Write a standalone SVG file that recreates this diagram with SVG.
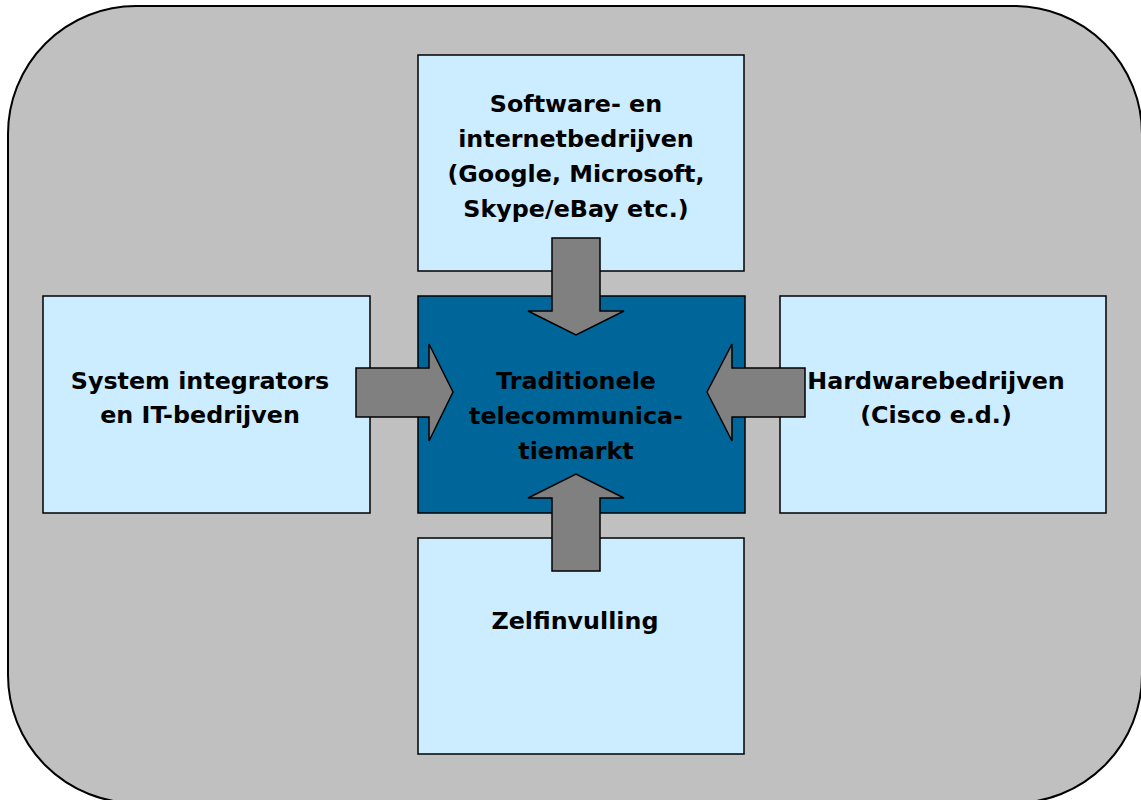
<svg xmlns="http://www.w3.org/2000/svg" width="1141" height="800" viewBox="0 0 1141 800">
<style>
.box{fill:#CCECFF;stroke:#000;stroke-width:1.5}
.core{fill:#006699;stroke:#000;stroke-width:1.5}
.arr{fill:#808080;stroke:#000;stroke-width:1.5;stroke-linejoin:miter}
text{font-family:"DejaVu Sans",Verdana,sans-serif;font-weight:bold;font-size:23.8px;fill:#000;text-anchor:middle}
</style>
<rect x="8" y="6" width="1134" height="797" rx="128" ry="128" fill="#C0C0C0" stroke="#000" stroke-width="2"/>
<g id="node-top"><rect class="box" x="418" y="55" width="326" height="216"/></g>
<g id="node-left"><rect class="box" x="43" y="296" width="327" height="217"/></g>
<g id="node-center"><rect class="core" x="418" y="296" width="327" height="217"/></g>
<g id="node-right"><rect class="box" x="780" y="296" width="326" height="217"/></g>
<g id="node-bottom"><rect class="box" x="418" y="538" width="326" height="216"/></g>
<g id="connectors">
<polygon class="arr" points="552,238 600,238 600,311 624,311 576,335 528,311 552,311"/>
<polygon class="arr" points="552,571 600,571 600,498 624,498 576,474 528,498 552,498"/>
<polygon class="arr" points="356,368 429,368 429,344 453,392 429,441 429,417 356,417"/>
<polygon class="arr" points="805,368 732,368 732,344 707,392 732,441 732,417 805,417"/>
</g>
<g id="labels">
<text x="576" y="112">Software- en</text>
<text x="576" y="147">internetbedrijven</text>
<text x="576" y="182">(Google, Microsoft,</text>
<text x="576" y="217">Skype/eBay etc.)</text>
<text x="200" y="389">System integrators</text>
<text x="200" y="423">en IT-bedrijven</text>
<text x="576" y="389">Traditionele</text>
<text x="576" y="424">telecommunica-</text>
<text x="576" y="459">tiemarkt</text>
<text x="936" y="389">Hardwarebedrijven</text>
<text x="936" y="423">(Cisco e.d.)</text>
<text x="575" y="629">Zelfinvulling</text>
</g>
</svg>
